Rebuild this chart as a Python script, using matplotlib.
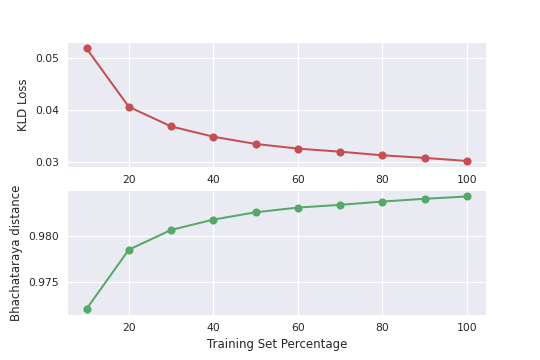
import matplotlib
matplotlib.use('Agg')
import matplotlib.pyplot as plt
from matplotlib.ticker import FormatStrFormatter, MultipleLocator

# Training set percentages
train_pct = [10, 20, 30, 40, 50, 60, 70, 80, 90, 100]

# KLD loss per training percentage
kld_loss = [0.0519, 0.0406, 0.0368, 0.0348, 0.0334, 0.0325, 0.0319, 0.0312, 0.0307, 0.0301]

# Bhattacharyya distance per training percentage
bhat_dist = [0.9720, 0.97847, 0.98062, 0.98175, 0.98255, 0.98306, 0.98336, 0.98372, 0.98402, 0.98427]

plt.style.use('seaborn-v0_8')
plt.rcParams['font.family'] = ['DejaVu Sans']
plt.rcParams['xtick.labelsize'] = 8.6
plt.rcParams['ytick.labelsize'] = 8.6
plt.rcParams['axes.labelsize'] = 9.4

fig = plt.figure(figsize=(6, 4), dpi=90)
fig.subplots_adjust(left=0.125, right=0.9, bottom=0.126, top=0.881, hspace=0.196)

ax1 = fig.add_subplot(2, 1, 1)
ax1.plot(train_pct, kld_loss, '-o', color='#C44E52', lw=1.6, ms=6.5)
ax1.set_ylabel('KLD Loss')
ax1.yaxis.set_major_locator(MultipleLocator(0.01))
ax1.yaxis.set_major_formatter(FormatStrFormatter('%.2f'))

ax2 = fig.add_subplot(2, 1, 2)
ax2.plot(train_pct, bhat_dist, '-o', color='#55A868', lw=1.6, ms=6.5)
ax2.set_ylabel('Bhachataraya distance')
ax2.set_xlabel('Training Set Percentage')

fig.savefig('out.png', dpi=90)
